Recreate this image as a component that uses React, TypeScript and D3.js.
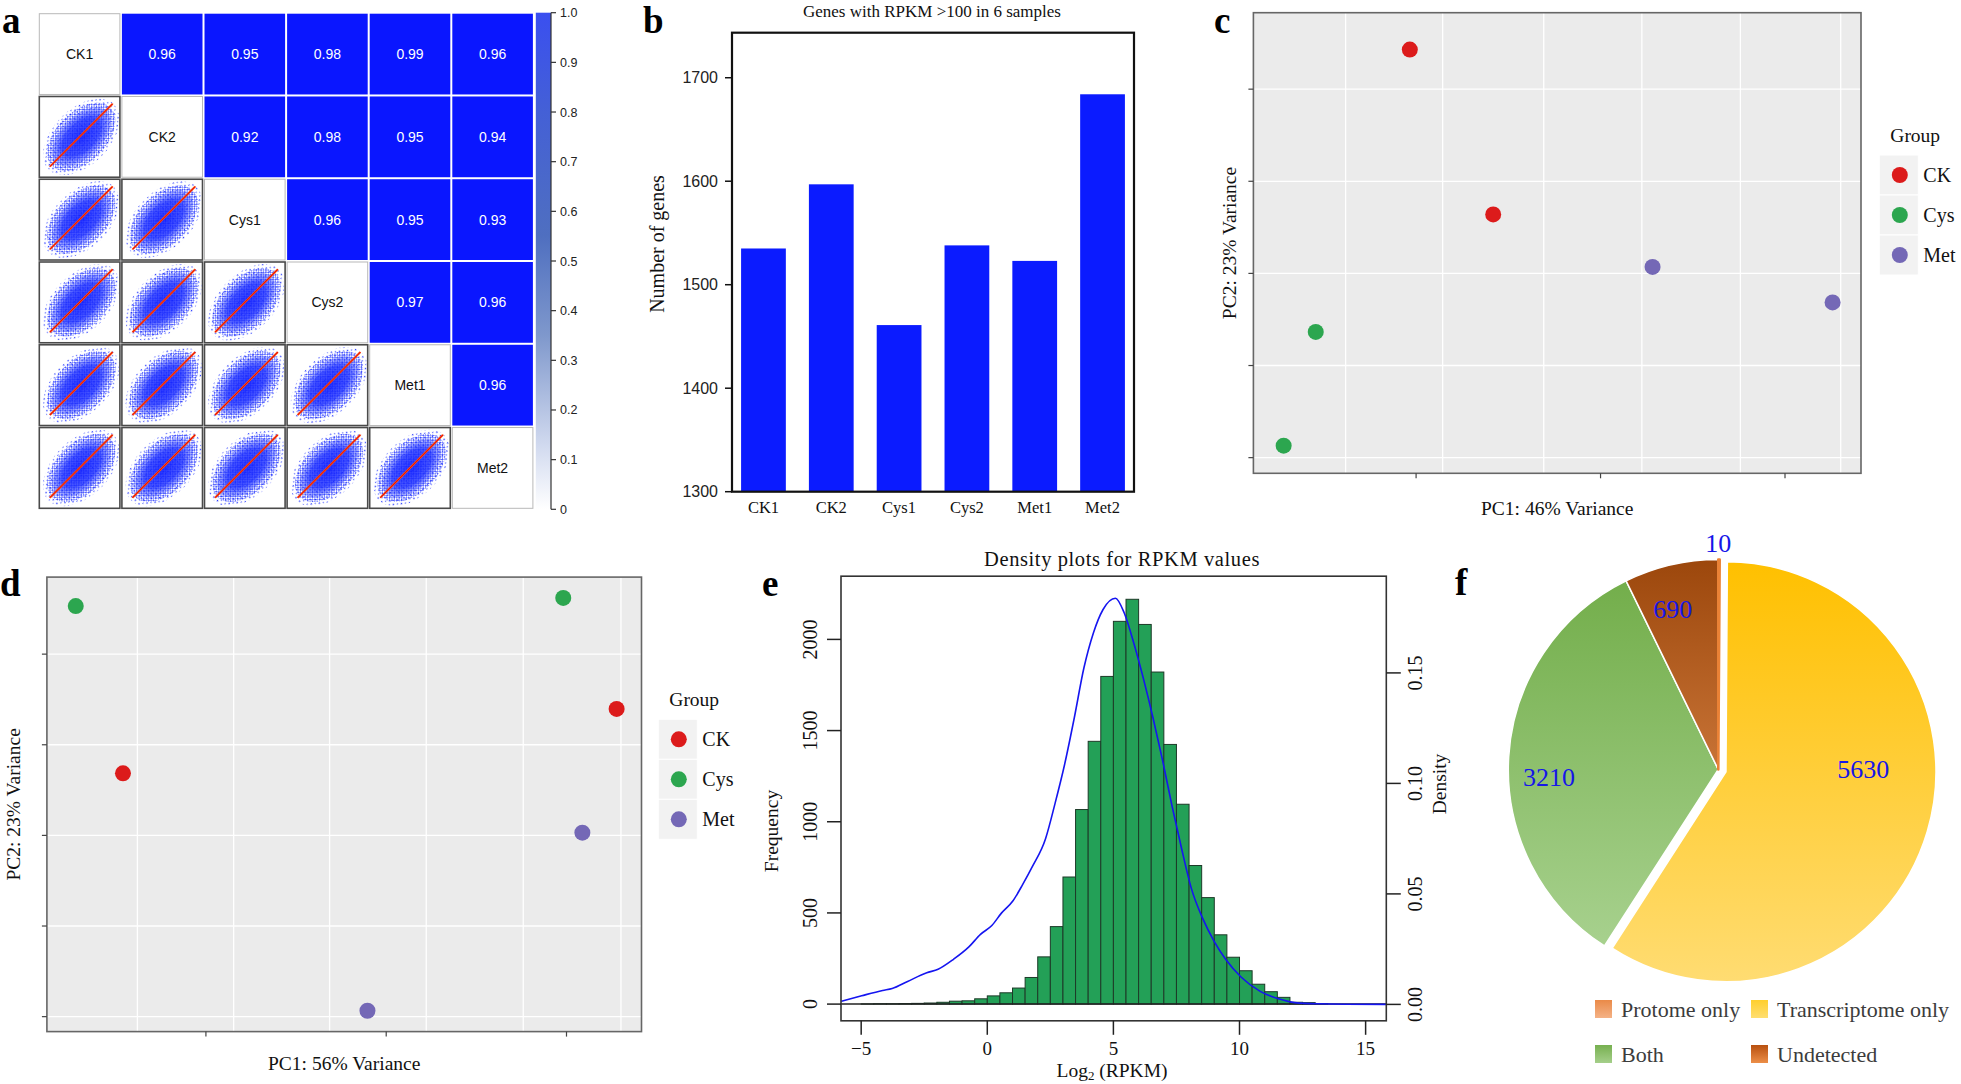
import React from 'react';
import * as d3 from 'd3';

const SERIF = "'Liberation Serif', 'Times New Roman', Times, serif";
const SANS = "'Liberation Sans', Arial, Helvetica, sans-serif";

/* ---------------- data ---------------- */
// panel a
const samples = ['CK1', 'CK2', 'Cys1', 'Cys2', 'Met1', 'Met2'];
const corrRows = [
  [0.96, 0.95, 0.98, 0.99, 0.96],
  [0.92, 0.98, 0.95, 0.94],
  [0.96, 0.95, 0.93],
  [0.97, 0.96],
  [0.96],
];
const colorbarTicks = [0, 0.1, 0.2, 0.3, 0.4, 0.5, 0.6, 0.7, 0.8, 0.9, 1.0];
const colorbarLabels = ['0', '0.1', '0.2', '0.3', '0.4', '0.5', '0.6', '0.7', '0.8', '0.9', '1.0'];

// panel b
const barTitle = 'Genes with RPKM >100 in 6 samples';
const barSamples = ['CK1', 'CK2', 'Cys1', 'Cys2', 'Met1', 'Met2'];
const geneCounts = [1535, 1597, 1461, 1538, 1523, 1684];
const countTicks = [1300, 1400, 1500, 1600, 1700];

// panels c, d
const groupNames = ['CK', 'Cys', 'Met'];
const groupColors = ['#dc1b1b', '#2ca64f', '#7468b6'];
const pcaCGroups = ['CK', 'CK', 'Cys', 'Cys', 'Met', 'Met'];
const pcaCX = [-5.17, -2.91, -7.72, -8.59, 1.41, 6.29];
const pcaCY = [4.86, 1.28, -1.27, -3.74, 0.14, -0.63];
const pcaDGroups = ['Cys', 'Cys', 'CK', 'CK', 'Met', 'Met'];
const pcaDX = [-8.61, 4.91, 6.39, -7.3, 5.44, -0.52];
const pcaDY = [5.06, 5.24, 2.79, 1.37, 0.06, -3.87];
const pcaCGridX = [-6.91, -4.28, -1.54, 1.12, 3.79, 6.51];
const pcaDGridX = [-6.9, -4.23, -1.57, 1.11, 3.8, 6.51];
const pcaTicksX = [-5, 0, 5];
const pcaTicksY = [-4, -2, 0, 2, 4];

// panel e
const histBinStart = [-5, -4.5, -4, -3.5, -3, -2.5, -2, -1.5, -1, -0.5, 0, 0.5, 1, 1.5, 2, 2.5, 3, 3.5, 4, 4.5, 5, 5.5, 6, 6.5, 7, 7.5, 8, 8.5, 9, 9.5, 10, 10.5, 11, 11.5, 12, 12.5, 13];
const histCounts = [1, 2, 2, 3, 4, 6, 10, 16, 18, 29, 45, 62, 88, 146, 259, 425, 697, 1067, 1441, 1797, 2099, 2220, 2082, 1821, 1424, 1096, 760, 584, 380, 257, 183, 109, 68, 37, 10, 8, 2];
const densityX = [-5.79, -4.98, -4.15, -3.77, -3.16, -2.4, -1.95, -1.34, -0.73, -0.27, 0.18, 0.56, 1.02, 1.4, 1.78, 2.31, 2.69, 3.07, 3.45, 3.83, 4.21, 4.59, 5.08, 5.43, 5.81, 6.19, 6.57, 6.95, 7.33, 7.71, 8.09, 8.54, 9.0, 9.45, 10.06, 10.82, 11.58, 12.19, 13.1, 15.84];
const densityY = [0.0014, 0.0039, 0.0063, 0.0072, 0.0104, 0.0143, 0.0159, 0.0204, 0.026, 0.0317, 0.0357, 0.0413, 0.0469, 0.0542, 0.0622, 0.075, 0.0911, 0.1088, 0.1297, 0.1522, 0.1682, 0.1787, 0.1838, 0.1771, 0.1634, 0.1474, 0.1297, 0.1104, 0.0895, 0.0702, 0.0525, 0.0389, 0.0284, 0.0204, 0.0124, 0.0059, 0.0024, 0.0008, 0.0003, 0.0];
const freqTicks = [0, 500, 1000, 1500, 2000];
const densTicks = [0, 0.05, 0.1, 0.15];
const densLabels = ['0.00', '0.05', '0.10', '0.15'];
const log2Ticks = [-5, 0, 5, 10, 15];
const log2Labels = ['\u22125', '0', '5', '10', '15'];

// panel f
const pieCategories = ['Protome only', 'Transcriptome only', 'Both', 'Undetected'];
const pieValues = [10, 5630, 3210, 690];

/* ---------------- helpers ---------------- */
const PanelLetter = ({ x, y, t }: { x: number; y: number; t: string }) => (
  <text x={x} y={y} fontFamily={SERIF} fontWeight="bold" fontSize={37} fill="#000">{t}</text>
);

/* ---------------- panel a ---------------- */
function PanelA() {
  const x = d3.scaleBand<string>().domain(samples).range([38.3, 533.9]);
  const y = d3.scaleBand<string>().domain(samples).range([12.7, 509.3]);
  const w = x.bandwidth();
  const h = y.bandwidth();
  const cb = d3.scaleLinear().domain([0, 1]).range([509.3, 12.7]);
  const cells: any[] = [];
  samples.forEach((rs, i) => {
    samples.forEach((cs, j) => {
      const x0 = x(cs)!;
      const y0 = y(rs)!;
      const key = `${i}-${j}`;
      if (i < j) {
        const v = corrRows[i][j - i - 1];
        cells.push(
          <g key={key}>
            <rect x={x0 + 1} y={y0 + 1} width={w - 2} height={h - 2} fill="#0a16ff" />
            <text x={x0 + w / 2} y={y0 + h / 2} dy="0.36em" textAnchor="middle" fontFamily={SANS} fontSize={14} fill="#fff">{v.toFixed(2)}</text>
          </g>
        );
      } else if (i === j) {
        cells.push(
          <g key={key}>
            <rect x={x0 + 1} y={y0 + 1} width={w - 2} height={h - 2} fill="#fff" stroke="#b8b8b8" strokeWidth={1} />
            <text x={x0 + w / 2} y={y0 + h / 2} dy="0.36em" textAnchor="middle" fontFamily={SANS} fontSize={14} fill="#111">{rs}</text>
          </g>
        );
      } else {
        const cx = x0 + w * 0.52;
        const cy = y0 + h * 0.5;
        cells.push(
          <g key={key}>
            <clipPath id={`clip-${key}`}>
              <rect x={x0 + 2} y={y0 + 2} width={w - 4} height={h - 4} />
            </clipPath>
            <rect x={x0 + 1} y={y0 + 1} width={w - 2} height={h - 2} fill="#fff" stroke="#4a4a4a" strokeWidth={1.6} />
            <g clipPath={`url(#clip-${key})`}>
              <ellipse cx={cx} cy={cy} rx={w * 0.56} ry={w * 0.34} transform={`rotate(-45 ${cx} ${cy})`} fill="url(#dotPat2)" />
              <ellipse cx={cx} cy={cy} rx={w * 0.5} ry={w * 0.3} transform={`rotate(-45 ${cx} ${cy})`} fill="url(#dotPat)" />
              <ellipse cx={cx} cy={cy} rx={w * 0.44} ry={w * 0.25} transform={`rotate(-45 ${cx} ${cy})`} fill="url(#cloudGrad)" />
              <line x1={x0 + w * 0.14} y1={y0 + h * 0.86} x2={x0 + w * 0.9} y2={y0 + h * 0.1} stroke="#ff5a10" strokeWidth={2} />
              <line x1={x0 + w * 0.14} y1={y0 + h * 0.86} x2={x0 + w * 0.9} y2={y0 + h * 0.1} stroke="#e8000a" strokeWidth={1} />
            </g>
          </g>
        );
      }
    });
  });
  return (
    <g>
      <defs>
        <pattern id="dotPat" width={3.4} height={3.4} patternUnits="userSpaceOnUse">
          <circle cx={0.9} cy={0.9} r={0.85} fill="#1a2cff" />
          <circle cx={2.6} cy={2.5} r={0.75} fill="#3344ff" />
        </pattern>
        <pattern id="dotPat2" width={6.3} height={5.1} patternUnits="userSpaceOnUse">
          <circle cx={1.2} cy={1.4} r={0.8} fill="#2a3cff" />
          <circle cx={4.4} cy={3.9} r={0.7} fill="#4455ff" />
        </pattern>
        <radialGradient id="cloudGrad">
          <stop offset="0%" stopColor="#0f1eff" stopOpacity={0.9} />
          <stop offset="65%" stopColor="#1e30ff" stopOpacity={0.8} />
          <stop offset="100%" stopColor="#3446ff" stopOpacity={0.25} />
        </radialGradient>
        <linearGradient id="cbGrad" x1="0" y1="1" x2="0" y2="0">
          <stop offset="0" stopColor="#ffffff" />
          <stop offset="0.12" stopColor="#d4dcf0" />
          <stop offset="0.35" stopColor="#7f98cc" />
          <stop offset="0.55" stopColor="#4f6fc0" />
          <stop offset="0.8" stopColor="#4460d6" />
          <stop offset="1" stopColor="#3a4ff0" />
        </linearGradient>
      </defs>
      {cells}
      <rect x={535.8} y={cb(1)} width={15.2} height={cb(0) - cb(1)} fill="url(#cbGrad)" />
      <line x1={551} x2={551} y1={cb(1)} y2={cb(0)} stroke="#333" strokeWidth={1.2} />
      {colorbarTicks.map((t, k) => (
        <g key={k}>
          <line x1={551} x2={556} y1={cb(t)} y2={cb(t)} stroke="#333" strokeWidth={1.2} />
          <text x={560} y={cb(t)} dy="0.36em" fontFamily={SANS} fontSize={12.5} fill="#222">{colorbarLabels[k]}</text>
        </g>
      ))}
      <PanelLetter x={2} y={33} t="a" />
    </g>
  );
}

/* ---------------- panel b ---------------- */
function PanelB() {
  const left = 732, right = 1134, top = 32.7, bottom = 491.7;
  const x = d3.scaleBand<string>().domain(barSamples).range([left, right]).paddingInner(0.34).paddingOuter(0.134);
  const y = d3.scaleLinear().domain([1300, 1743.5]).range([bottom, top]);
  return (
    <g>
      <text x={932} y={16.5} textAnchor="middle" fontFamily={SERIF} fontSize={17} fill="#111">{barTitle}</text>
      {barSamples.map((s, i) => (
        <rect key={s} x={x(s)} y={y(geneCounts[i])} width={x.bandwidth()} height={y(1300) - y(geneCounts[i])} fill="#0b1bff" />
      ))}
      <rect x={left} y={top} width={right - left} height={bottom - top} fill="none" stroke="#111" strokeWidth={2.2} />
      {countTicks.map((t) => (
        <g key={t}>
          <line x1={left - 7} x2={left} y1={y(t)} y2={y(t)} stroke="#111" strokeWidth={1.5} />
          <text x={left - 14} y={y(t)} dy="0.36em" textAnchor="end" fontFamily={SANS} fontSize={16} fill="#222">{t}</text>
        </g>
      ))}
      {barSamples.map((s) => (
        <text key={s} x={x(s)! + x.bandwidth() / 2} y={513} textAnchor="middle" fontFamily={SERIF} fontSize={16.5} fill="#111">{s}</text>
      ))}
      <text transform="translate(663.5 244) rotate(-90)" textAnchor="middle" fontFamily={SERIF} fontSize={20} fill="#111">Number of genes</text>
      <PanelLetter x={643} y={33} t="b" />
    </g>
  );
}

/* ---------------- panels c, d ---------------- */
type PCAProps = {
  xDomain: number[]; xRange: number[]; yDomain: number[]; yRange: number[];
  gridX: number[]; groups: string[]; xs: number[]; ys: number[];
  xTitle: string; xTitleY: number; yTitleX: number;
  legendX: number; legendY: number;
};
function PCAPanel(p: PCAProps) {
  const x = d3.scaleLinear().domain(p.xDomain).range(p.xRange);
  const y = d3.scaleLinear().domain(p.yDomain).range(p.yRange);
  const color = d3.scaleOrdinal<string, string>().domain(groupNames).range(groupColors);
  const [x0, x1] = p.xRange;
  const [y1, y0] = p.yRange;
  const keyH = 40, keyW = 39;
  return (
    <g>
      <rect x={x0} y={y0} width={x1 - x0} height={y1 - y0} fill="#ebebeb" />
      {pcaTicksY.map((t) => (
        <line key={'gy' + t} x1={x0} x2={x1} y1={y(t)} y2={y(t)} stroke="#fff" strokeWidth={1.3} />
      ))}
      {p.gridX.map((t) => (
        <line key={'gx' + t} x1={x(t)} x2={x(t)} y1={y0} y2={y1} stroke="#fff" strokeWidth={1.3} />
      ))}
      <rect x={x0} y={y0} width={x1 - x0} height={y1 - y0} fill="none" stroke="#666" strokeWidth={1.6} />
      {pcaTicksY.map((t) => (
        <line key={'ty' + t} x1={x0 - 5} x2={x0} y1={y(t)} y2={y(t)} stroke="#444" strokeWidth={1.2} />
      ))}
      {pcaTicksX.map((t) => (
        <line key={'tx' + t} x1={x(t)} x2={x(t)} y1={y1} y2={y1 + 5} stroke="#444" strokeWidth={1.2} />
      ))}
      {p.xs.map((v, i) => (
        <circle key={i} cx={x(v)} cy={y(p.ys[i])} r={8} fill={color(p.groups[i])} />
      ))}
      <text x={(x0 + x1) / 2} y={p.xTitleY} textAnchor="middle" fontFamily={SERIF} fontSize={19.5} fill="#111">{p.xTitle}</text>
      <text transform={`translate(${p.yTitleX} ${(y0 + y1) / 2}) rotate(-90)`} textAnchor="middle" fontFamily={SERIF} fontSize={19.5} fill="#111">PC2: 23% Variance</text>
      <text x={p.legendX + 11} y={p.legendY - 13} fontFamily={SERIF} fontSize={19.5} fill="#111">Group</text>
      {groupNames.map((g, i) => (
        <g key={g}>
          <rect x={p.legendX} y={p.legendY + i * keyH} width={keyW} height={keyH} fill="#f2f2f2" stroke="#fff" strokeWidth={1} />
          <circle cx={p.legendX + keyW / 2 + 1} cy={p.legendY + i * keyH + keyH / 2} r={8} fill={color(g)} />
          <text x={p.legendX + 44} y={p.legendY + i * keyH + keyH / 2 + 7} fontFamily={SERIF} fontSize={20} fill="#111">{g}</text>
        </g>
      ))}
    </g>
  );
}

/* ---------------- panel e ---------------- */
function PanelE() {
  const left = 841, right = 1386.3, top = 576.2, bottom = 1020.8;
  const x = d3.scaleLinear().domain([-5.8, 15.82]).range([left, right]);
  const yL = d3.scaleLinear().domain([-91.6, 2346.6]).range([bottom, top]);
  const yR = d3.scaleLinear().domain([-0.00742, 0.19376]).range([bottom, top]);
  const line = d3.line<number>().x((d) => x(d)).y((_, i) => yR(densityY[i])).curve(d3.curveMonotoneX);
  return (
    <g>
      <text x={1122} y={565.5} textAnchor="middle" fontFamily={SERIF} fontSize={20.5} letterSpacing={0.6} fill="#111">Density plots for RPKM values</text>
      {histBinStart.map((s, i) => (
        <rect key={s} x={x(s)} y={yL(histCounts[i])} width={x(s + 0.5) - x(s)} height={yL(0) - yL(histCounts[i])} fill="#23a057" stroke="#1d3a28" strokeWidth={1} />
      ))}
      <line x1={left} x2={right} y1={yL(0)} y2={yL(0)} stroke="#222" strokeWidth={1.5} />
      <path d={line(densityX) || ''} fill="none" stroke="#1515f0" strokeWidth={1.6} />
      <rect x={left} y={top} width={right - left} height={bottom - top} fill="none" stroke="#333" strokeWidth={1.6} />
      {freqTicks.map((t) => (
        <g key={t}>
          <line x1={left - 14} x2={left} y1={yL(t)} y2={yL(t)} stroke="#222" strokeWidth={1.5} />
          <text transform={`translate(817 ${yL(t)}) rotate(-90)`} textAnchor="middle" fontFamily={SERIF} fontSize={20} fill="#111">{t}</text>
        </g>
      ))}
      {densTicks.map((t, k) => (
        <g key={t}>
          <line x1={right} x2={right + 14.5} y1={yR(t)} y2={yR(t)} stroke="#222" strokeWidth={1.5} />
          <text transform={`translate(1421.5 ${yR(t)}) rotate(-90)`} textAnchor="middle" fontFamily={SERIF} fontSize={20} fill="#111">{densLabels[k]}</text>
        </g>
      ))}
      {log2Ticks.map((t, k) => (
        <g key={t}>
          <line x1={x(t)} x2={x(t)} y1={bottom} y2={bottom + 14} stroke="#222" strokeWidth={1.5} />
          <text x={x(t)} y={1055} textAnchor="middle" fontFamily={SERIF} fontSize={19} fill="#111">{log2Labels[k]}</text>
        </g>
      ))}
      <text x={1112} y={1077} textAnchor="middle" fontFamily={SERIF} fontSize={19.5} fill="#111">
        Log<tspan fontSize={13} dy={3}>2</tspan><tspan dy={-3}> (RPKM)</tspan>
      </text>
      <text transform="translate(777.5 831) rotate(-90)" textAnchor="middle" fontFamily={SERIF} fontSize={19.5} fill="#111">Frequency</text>
      <text transform="translate(1446 784) rotate(-90)" textAnchor="middle" fontFamily={SERIF} fontSize={19.5} fill="#111">Density</text>
      <PanelLetter x={762} y={596} t="e" />
    </g>
  );
}

/* ---------------- panel f ---------------- */
function PanelF() {
  const cx = 1718.3, cy = 769.5, r = 210;
  const explode = [0, 8, 0, 0];
  const gradTop = ['#e97a2c', '#ffc000', '#70ac47', '#9c470c'];
  const gradBot = ['#f4ab72', '#ffdc72', '#acd494', '#f4a060'];
  const swatchTop = ['#ea8a48', '#ffcf2e', '#77b050', '#b8500f'];
  const swatchBot = ['#f4b286', '#ffde70', '#a5cf8a', '#ec8e48'];
  const labelAngle = [0, 89.7, 267.6, 344.2];
  const labelRadius = [227, 145, 169.5, 167.2];
  const pie = d3.pie<number>().sort(null).value((d) => d).startAngle(0).endAngle(2 * Math.PI);
  const arcs = pie(pieValues);
  const arc = d3.arc<d3.PieArcDatum<number>>().innerRadius(0).outerRadius(r);
  const order = [1, 2, 3, 0];
  const legendCols = [1595, 1751];
  const legendRows = [1000, 1045];
  return (
    <g>
      <defs>
        {pieCategories.map((c, i) => (
          <linearGradient key={c} id={`pg${i}`} gradientUnits="userSpaceOnUse" x1={0} y1={-r} x2={0} y2={r}>
            <stop offset="0" stopColor={gradTop[i]} />
            <stop offset="1" stopColor={gradBot[i]} />
          </linearGradient>
        ))}
        {pieCategories.map((c, i) => (
          <linearGradient key={'s' + c} id={`sg${i}`} x1={0} y1={0} x2={0} y2={1}>
            <stop offset="0" stopColor={swatchTop[i]} />
            <stop offset="1" stopColor={swatchBot[i]} />
          </linearGradient>
        ))}
      </defs>
      {order.map((i) => {
        const a = arcs[i];
        const mid = (a.startAngle + a.endAngle) / 2;
        const dx = Math.sin(mid) * explode[i];
        const dy = -Math.cos(mid) * explode[i];
        const tiny = i === 0;
        return (
          <path key={i} d={arc(a) || ''} transform={`translate(${cx + dx} ${cy + dy})`} fill={`url(#pg${i})`}
            stroke={tiny ? '#ea8236' : '#ffffff'} strokeWidth={tiny ? 2.6 : 1.5} strokeLinejoin="round" />
        );
      })}
      {pieValues.map((v, i) => {
        const ang = (labelAngle[i] * Math.PI) / 180;
        return (
          <text key={i} x={cx + Math.sin(ang) * labelRadius[i]} y={cy - Math.cos(ang) * labelRadius[i]} dy="0.35em" textAnchor="middle" fontFamily={SERIF} fontSize={26} fill="#1616e8">{v}</text>
        );
      })}
      {pieCategories.map((c, i) => {
        const lx = legendCols[i % 2];
        const ly = legendRows[Math.floor(i / 2)];
        return (
          <g key={c}>
            <rect x={lx} y={ly} width={17} height={18} fill={`url(#sg${i})`} />
            <text x={lx + 26} y={ly + 17} fontFamily={SERIF} fontSize={22} fill="#3c3c3c">{c}</text>
          </g>
        );
      })}
      <PanelLetter x={1455} y={595} t="f" />
    </g>
  );
}

export default function App() {
  return (
    <svg width={1961} height={1084} viewBox="0 0 1961 1084" style={{ position: 'absolute', left: 0, top: 0, display: 'block' }}>
      <rect width={1961} height={1084} fill="#fff" />
      <PanelA />
      <PanelB />
      <PCAPanel xDomain={[-9.41, 7.06]} xRange={[1253.4, 1861]} yDomain={[-4.34, 5.66]} yRange={[473.3, 12.7]}
        gridX={pcaCGridX} groups={pcaCGroups} xs={pcaCX} ys={pcaCY}
        xTitle="PC1: 46% Variance" xTitleY={515} yTitleX={1236} legendX={1879.3} legendY={155} />
      <PanelLetter x={1214} y={33} t="c" />
      <PCAPanel xDomain={[-9.41, 7.08]} xRange={[46.9, 641.5]} yDomain={[-4.33, 5.7]} yRange={[1031.6, 577.1]}
        gridX={pcaDGridX} groups={pcaDGroups} xs={pcaDX} ys={pcaDY}
        xTitle="PC1: 56% Variance" xTitleY={1070} yTitleX={20} legendX={658.3} legendY={719.3} />
      <PanelLetter x={0} y={596} t="d" />
      <PanelE />
      <PanelF />
    </svg>
  );
}
